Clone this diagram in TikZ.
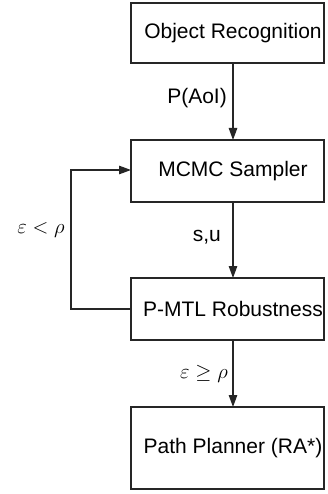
\documentclass[tikz,border=0pt]{standalone}
\usepackage{fontspec}
\setmainfont{Liberation Sans}
\usetikzlibrary{arrows.meta}
\begin{document}
\begin{tikzpicture}[x=1pt,y=-1pt,
  box/.style={draw=black!85, line width=1.4pt},
  lbl/.style={font=\fontsize{21}{25}\selectfont, inner sep=0pt},
  mlbl/.style={font=\fontsize{21.5}{25}\selectfont, inner sep=0pt},
  conn/.style={draw=black!85, line width=1.2pt, -{Triangle[length=12pt,width=8.5pt]}}]
\useasboundingbox (0,0) rectangle (327,494);
% boxes
\draw[box] (131,3) rectangle (324,63);
\draw[box] (131,140) rectangle (324,202);
\draw[box] (131,278) rectangle (324,340);
\draw[box] (131,407) rectangle (324,489);
% box texts
\node[lbl] (objrec) at (233,33) {Object Recognition};
\node[lbl] (mcmc) at (233,171) {MCMC Sampler};
\node[lbl] (pmtl) at (233,309) {P-MTL Robustness};
\node[lbl] (path) at (233,448) {Path Planner (RA*)};
% anchor coordinates on box borders
\coordinate (b1s) at (233,63);
\coordinate (b2n) at (233,140);
\coordinate (b2s) at (233,202);
\coordinate (b3n) at (233,278);
\coordinate (b3s) at (233,340);
\coordinate (b4n) at (233,407);
\coordinate (b3w) at (131,309);
\coordinate (b2w) at (131,170);
\coordinate (loopb) at (71,309);
\coordinate (loopt) at (71,170);
% connectors
\draw[conn] (b1s) -- (b2n);
\draw[conn] (b2s) -- (b3n);
\draw[conn] (b3s) -- (b4n);
\draw[conn] (b3w) -- (loopb) -- (loopt) -- (b2w);
% labels
\node[lbl, anchor=east] (lpaoi) at (227,98) {P(AoI)};
\node[lbl, anchor=east] (lsu) at (221,237) {s,u};
\node[mlbl, anchor=east] (lgeq) at (228,374) {$\varepsilon \geq \rho$};
\node[mlbl] (llt) at (41,230) {$\varepsilon < \rho$};
\end{tikzpicture}
\end{document}
